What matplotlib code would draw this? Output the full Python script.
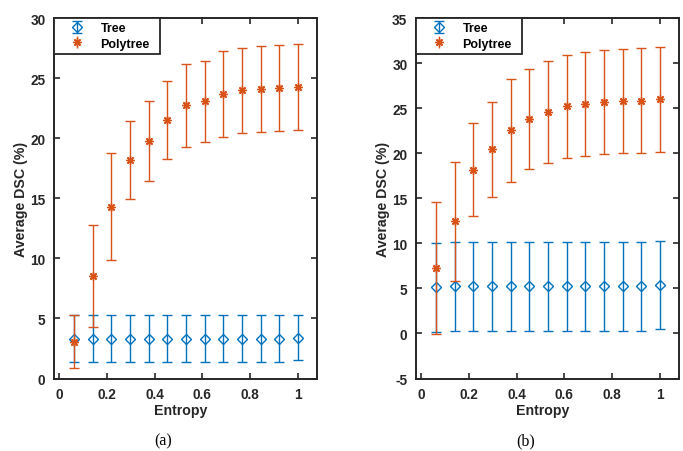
import matplotlib
matplotlib.use("Agg")
import matplotlib.pyplot as plt
from matplotlib.lines import Line2D

# ---------------- data ----------------
entropy = [0.0625, 0.1406, 0.2188, 0.2969, 0.375, 0.4531, 0.5312,
           0.6094, 0.6875, 0.7656, 0.8438, 0.9219, 1.0]

tree_a_mean = [3.3, 3.3, 3.3, 3.3, 3.3, 3.3, 3.3, 3.3, 3.3, 3.3, 3.3, 3.3, 3.4]
tree_a_err = [1.95, 1.95, 1.95, 1.95, 1.95, 1.95, 1.95, 1.95, 1.95, 1.95, 1.95, 1.95, 1.9]
poly_a_mean = [3.05, 8.55, 14.3, 18.2, 19.76, 21.55, 22.75, 23.08, 23.67, 24.0, 24.1, 24.17, 24.3]
poly_a_err = [2.2, 4.25, 4.45, 3.27, 3.33, 3.25, 3.45, 3.36, 3.58, 3.54, 3.56, 3.57, 3.6]

tree_b_mean = [5.15, 5.25, 5.25, 5.25, 5.25, 5.25, 5.25, 5.25, 5.25, 5.25, 5.25, 5.25, 5.42]
tree_b_err = [4.95, 4.92, 4.92, 4.92, 4.92, 4.92, 4.92, 4.92, 4.92, 4.92, 4.92, 4.92, 4.87]
poly_b_mean = [7.25, 12.45, 18.2, 20.44, 22.55, 23.81, 24.59, 25.22, 25.48, 25.73, 25.84, 25.86, 26.03]
poly_b_err = [7.35, 6.63, 5.13, 5.28, 5.68, 5.6, 5.7, 5.74, 5.8, 5.78, 5.8, 5.83, 5.83]

yticks_a = [0, 5, 10, 15, 20, 25, 30]
yticks_b = [-5, 0, 5, 10, 15, 20, 25, 30, 35]
xticks = [0, 0.2, 0.4, 0.6, 0.8, 1]
xtick_labels = ["0", "0.2", "0.4", "0.6", "0.8", "1"]

# ---------------- style ----------------
BLUE = "#0072BD"
ORANGE = "#D95319"
AX_COL = "#262626"
SANS = ["Liberation Sans", "DejaVu Sans"]
SERIF = ["Liberation Serif", "DejaVu Serif"]

W, H = 683, 452
fig = plt.figure(figsize=(W / 100, H / 100), dpi=100)
fig.patch.set_facecolor("white")


def make_panel(rect_px, tm, te, pm, pe, ylim, yticks, caption, cap_x):
    x0, x1, y_top, y_bot = rect_px
    ax_w = x1 - x0
    ax = fig.add_axes([x0 / W, (H - y_bot) / H, ax_w / W, (y_bot - y_top) / H])
    t = ax.errorbar(entropy, tm, yerr=te, fmt="D", color=BLUE, mfc="none",
                    mec=BLUE, ms=5.2, mew=1.0, elinewidth=1.0, capsize=3.3,
                    capthick=1.0, label="Tree", zorder=3)
    ax.errorbar(entropy, pm, yerr=pe, fmt="none", ecolor=ORANGE,
                elinewidth=1.0, capsize=3.3, capthick=1.0, zorder=4)
    ax.plot(entropy, pm, linestyle="none", marker=(8, 2, 0), color=ORANGE,
            ms=6, mew=1.0, zorder=5)
    # legend proxy for polytree (errorbar + asterisk marker)
    p2 = ax.errorbar([], [], yerr=[], fmt="none", ecolor=ORANGE,
                     elinewidth=1.0, capsize=3.3, capthick=1.0)
    star = Line2D([], [], linestyle="none", marker=(8, 2, 0), color=ORANGE,
                  ms=6, mew=1.0)

    ax.set_xlim(-0.022, 1.08)
    ax.set_ylim(*ylim)
    ax.set_yticks(yticks)
    ax.set_yticklabels([str(v) for v in yticks])
    ax.set_xticks(xticks)
    ax.set_xticklabels(xtick_labels)
    ax.tick_params(direction="in", length=4, width=1.2, colors=AX_COL,
                   top=True, right=True, labelsize=9.8, pad=6)
    for lab in ax.get_xticklabels() + ax.get_yticklabels():
        lab.set_fontfamily(SANS)
        lab.set_fontweight("bold")
    for s in ax.spines.values():
        s.set_color(AX_COL)
        s.set_linewidth(1.4)

    ax.set_xlabel("Entropy", fontsize=10.2, fontweight="bold", family=SANS,
                  color=AX_COL)
    ax.xaxis.set_label_coords(0.4835, -0.069)
    ax.set_ylabel("Average DSC (%)", fontsize=10.2, fontweight="bold",
                  family=SANS, color=AX_COL)
    ax.yaxis.set_label_coords(-0.097, 0.5)

    leg_w = 106.0 / ax_w
    leg = ax.legend([t, (p2, star)], ["Tree", "Polytree"], loc="upper left",
                    bbox_to_anchor=(0, 1, leg_w, 0), mode="expand",
                    borderaxespad=0, frameon=True,
                    fancybox=False, framealpha=1, edgecolor=AX_COL,
                    handlelength=3.1, handletextpad=0.31, borderpad=0.33,
                    labelspacing=0.25,
                    prop={"family": SANS, "weight": "bold", "size": 9})
    leg.get_frame().set_linewidth(1.3)

    fig.text(cap_x / W, 1 - 441.5 / H, caption, family=SERIF, fontsize=11.5,
             ha="center", va="center")
    return ax


make_panel((53.8, 317, 19.3, 379.5), tree_a_mean, tree_a_err, poly_a_mean,
           poly_a_err, (0, 30), yticks_a, "(a)", 163.5)
make_panel((415.7, 679, 19.3, 379.5), tree_b_mean, tree_b_err, poly_b_mean,
           poly_b_err, (-5, 35), yticks_b, "(b)", 526)

fig.savefig("out.png", dpi=100, facecolor="white")
